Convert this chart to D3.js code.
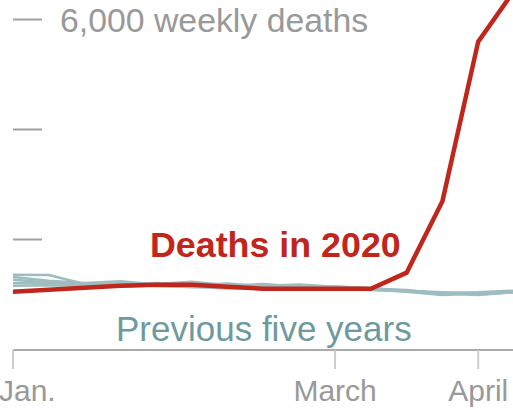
<!DOCTYPE html>
<html>
<head>
<meta charset="utf-8">
<script src="https://cdn.jsdelivr.net/npm/d3@7"></script>
<style>
  html, body { margin: 0; padding: 0; background: #fff; }
  svg { display: block; }
  text { font-family: "Liberation Sans", Arial, sans-serif; }
</style>
</head>
<body>
<svg id="chart" width="513" height="410"></svg>
<script>
// Week index from first week of January
const weeks = [0,1,2,3,4,5,6,7,8,9,10,11,12,13,14];

// Weekly deaths, 2020
const deaths2020 = [1050,1087,1123,1160,1178,1178,1141,1105,1105,1105,1105,1397,2694,5598,6520];

// Previous five years (weekly deaths)
const prev1 = [1360,1355,1190,1200,1190,1230,1170,1160,1180,1140,1120,1060,1030,1040,1070];
const prev2 = [1320,1250,1210,1240,1180,1200,1160,1190,1140,1150,1110,1080,1010,1030,1060];
const prev3 = [1270,1220,1200,1180,1210,1170,1200,1150,1160,1120,1100,1070,1040,1000,1040];
const prev4 = [1210,1200,1180,1140,1170,1130,1140,1120,1120,1110,1090,1050,990,1020,1050];
const prev5 = [1160,1170,1160,1200,1150,1140,1110,1120,1100,1100,1080,1060,1020,990,1040];
const previousYears = [prev1, prev2, prev3, prev4, prev5];

// Axis ticks
const xTickWeeks = [0, 9, 13];
const xTickLabels = ["Jan.", "March", "April"];
const yTickValues = [2000, 4000, 6000];
const yTopLabel = "6,000 weekly deaths";

const svg = d3.select("#chart");

const x = d3.scaleLinear().domain([0, 14]).range([13, 514]);
const y = d3.scaleLinear().domain([0, 6000]).range([349.5, 19.5]);

// Y tick dashes
svg.append("g").selectAll("line")
  .data(yTickValues).join("line")
  .attr("x1", 13).attr("x2", 42)
  .attr("y1", d => y(d)).attr("y2", d => y(d))
  .attr("stroke", "#a0a0a0").attr("stroke-width", 2);

svg.append("text")
  .attr("x", 60).attr("y", y(6000) + 12)
  .attr("font-size", 33.8)
  .attr("fill", "#999")
  .text(yTopLabel);

// X axis
const xAxis = svg.append("g");
xAxis.append("line")
  .attr("x1", x(0)).attr("x2", 513)
  .attr("y1", 350).attr("y2", 350)
  .attr("stroke", "#aaa").attr("stroke-width", 2);
xAxis.selectAll("line.tick")
  .data(xTickWeeks).join("line")
  .attr("class", "tick")
  .attr("x1", d => x(d)).attr("x2", d => x(d))
  .attr("y1", 350).attr("y2", 369)
  .attr("stroke", "#ccc").attr("stroke-width", 2);
xAxis.selectAll("text")
  .data(xTickWeeks).join("text")
  .attr("x", (d, i) => i === 0 ? x(d) - 14 : x(d))
  .attr("y", 401)
  .attr("text-anchor", (d, i) => i === 0 ? "start" : "middle")
  .attr("font-size", 30)
  .attr("fill", "#999")
  .text((d, i) => xTickLabels[i]);

const line = d3.line()
  .x((d, i) => x(weeks[i]))
  .y(d => y(d));

// Previous years
svg.append("g").selectAll("path")
  .data(previousYears).join("path")
  .attr("d", line)
  .attr("fill", "none")
  .attr("stroke", "#9dbdc0")
  .attr("stroke-width", 2.5)
  .attr("stroke-linejoin", "round");

// 2020
svg.append("path")
  .datum(deaths2020)
  .attr("d", line)
  .attr("fill", "none")
  .attr("stroke", "#c0261c")
  .attr("stroke-width", 4.5)
  .attr("stroke-linejoin", "miter");

// Labels
svg.append("text")
  .attr("x", 150).attr("y", 257)
  .attr("font-size", 35.8)
  .attr("font-weight", "bold")
  .attr("fill", "#c0261c")
  .text("Deaths in 2020");

svg.append("text")
  .attr("x", 116).attr("y", 340.5)
  .attr("font-size", 35)
  .attr("fill", "#6e9a9d")
  .text("Previous five years");
</script>
</body>
</html>
